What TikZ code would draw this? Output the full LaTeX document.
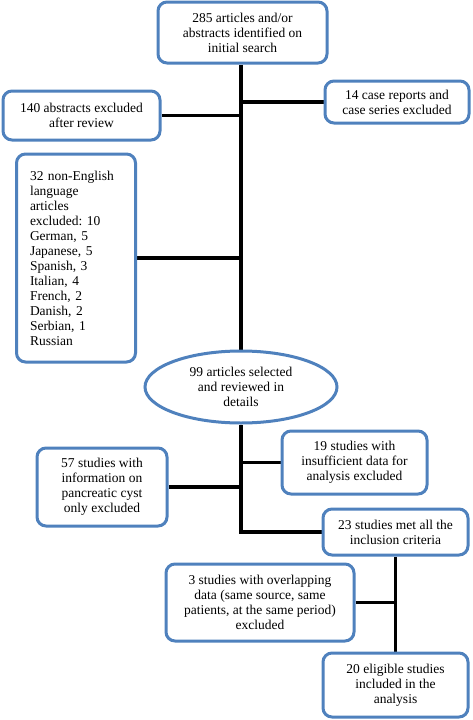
\documentclass[tikz,border=0pt]{standalone}
\usepackage{fontspec}
\setmainfont{Liberation Serif}
\usetikzlibrary{shapes.geometric,backgrounds}
\definecolor{boxblue}{RGB}{79,129,189}
\frenchspacing
\begin{document}
\begin{tikzpicture}[x=1pt,y=-1pt,
  box/.style={draw=boxblue, line width=3pt, rounded corners=9pt, fill=white, align=center,
    font=\fontsize{13.5}{15}\selectfont, inner sep=1pt},
  ellbox/.style={draw=boxblue, line width=3pt, ellipse, fill=white, align=center,
    font=\fontsize{13.5}{15}\selectfont, inner sep=0pt},
  conn/.style={line width=3.2pt, black}]
\useasboundingbox (0,0) rectangle (472,720);

\node[box, minimum width=169pt, minimum height=61pt] (top) at (242.5,32.5)
  {285 articles and/or\\abstracts identified on\\initial search};
\node[box, minimum width=157pt, minimum height=49pt] (b140) at (81.5,115.5)
  {140 abstracts excluded\\after review};
\node[box, minimum width=144pt, minimum height=42pt] (b14) at (397,102)
  {14 case reports and\\case series excluded};
\node[box, minimum width=119pt, minimum height=208pt, text width=92pt, align=left] (b32) at (76,258)
  {32 non-English\\language\\articles\\excluded: 10\\German, 5\\Japanese, 5\\Spanish, 3\\Italian, 4\\French, 2\\Danish, 2\\Serbian, 1\\Russian};
\node[ellbox, minimum width=192pt, minimum height=72pt] (ell) at (241,387)
  {99 articles selected\\and reviewed in\\details};
\node[box, minimum width=145pt, minimum height=63pt] (b19) at (354.5,462.5)
  {19 studies with\\insufficient data for\\analysis excluded};
\node[box, minimum width=130pt, minimum height=78pt] (b57) at (102,487)
  {57 studies with\\information on\\pancreatic cyst\\only excluded};
\node[box, minimum width=145pt, minimum height=46pt] (b23) at (395.5,532)
  {23 studies met all the\\inclusion criteria};
\node[box, minimum width=188pt, minimum height=77pt] (b3) at (260,602.5)
  {3 studies with overlapping\\data (same source, same\\patients, at the same period)\\excluded};
\node[box, minimum width=145pt, minimum height=64pt] (b20) at (395.5,685)
  {20 eligible studies\\included in the\\analysis};

\begin{scope}[on background layer]
\draw[conn] (top.south -| ell.north) -- (ell.north);
\draw[conn] (b140.east) -- (b140.east -| ell.north);
\draw[conn] (b14.west) -- (b14.west -| ell.north);
\draw[conn] (b32.east) -- (b32.east -| ell.north);
\draw[conn] (ell.south) -- (ell.south |- b23.west) -- (b23.west);
\draw[conn] (b19.west) -- (b19.west -| ell.south);
\draw[conn] (b57.east) -- (b57.east -| ell.south);
\draw[conn] (b23.south) -- (b20.north);
\draw[conn] (b3.east) -- (b3.east -| b23.south);
\end{scope}
\end{tikzpicture}
\end{document}
